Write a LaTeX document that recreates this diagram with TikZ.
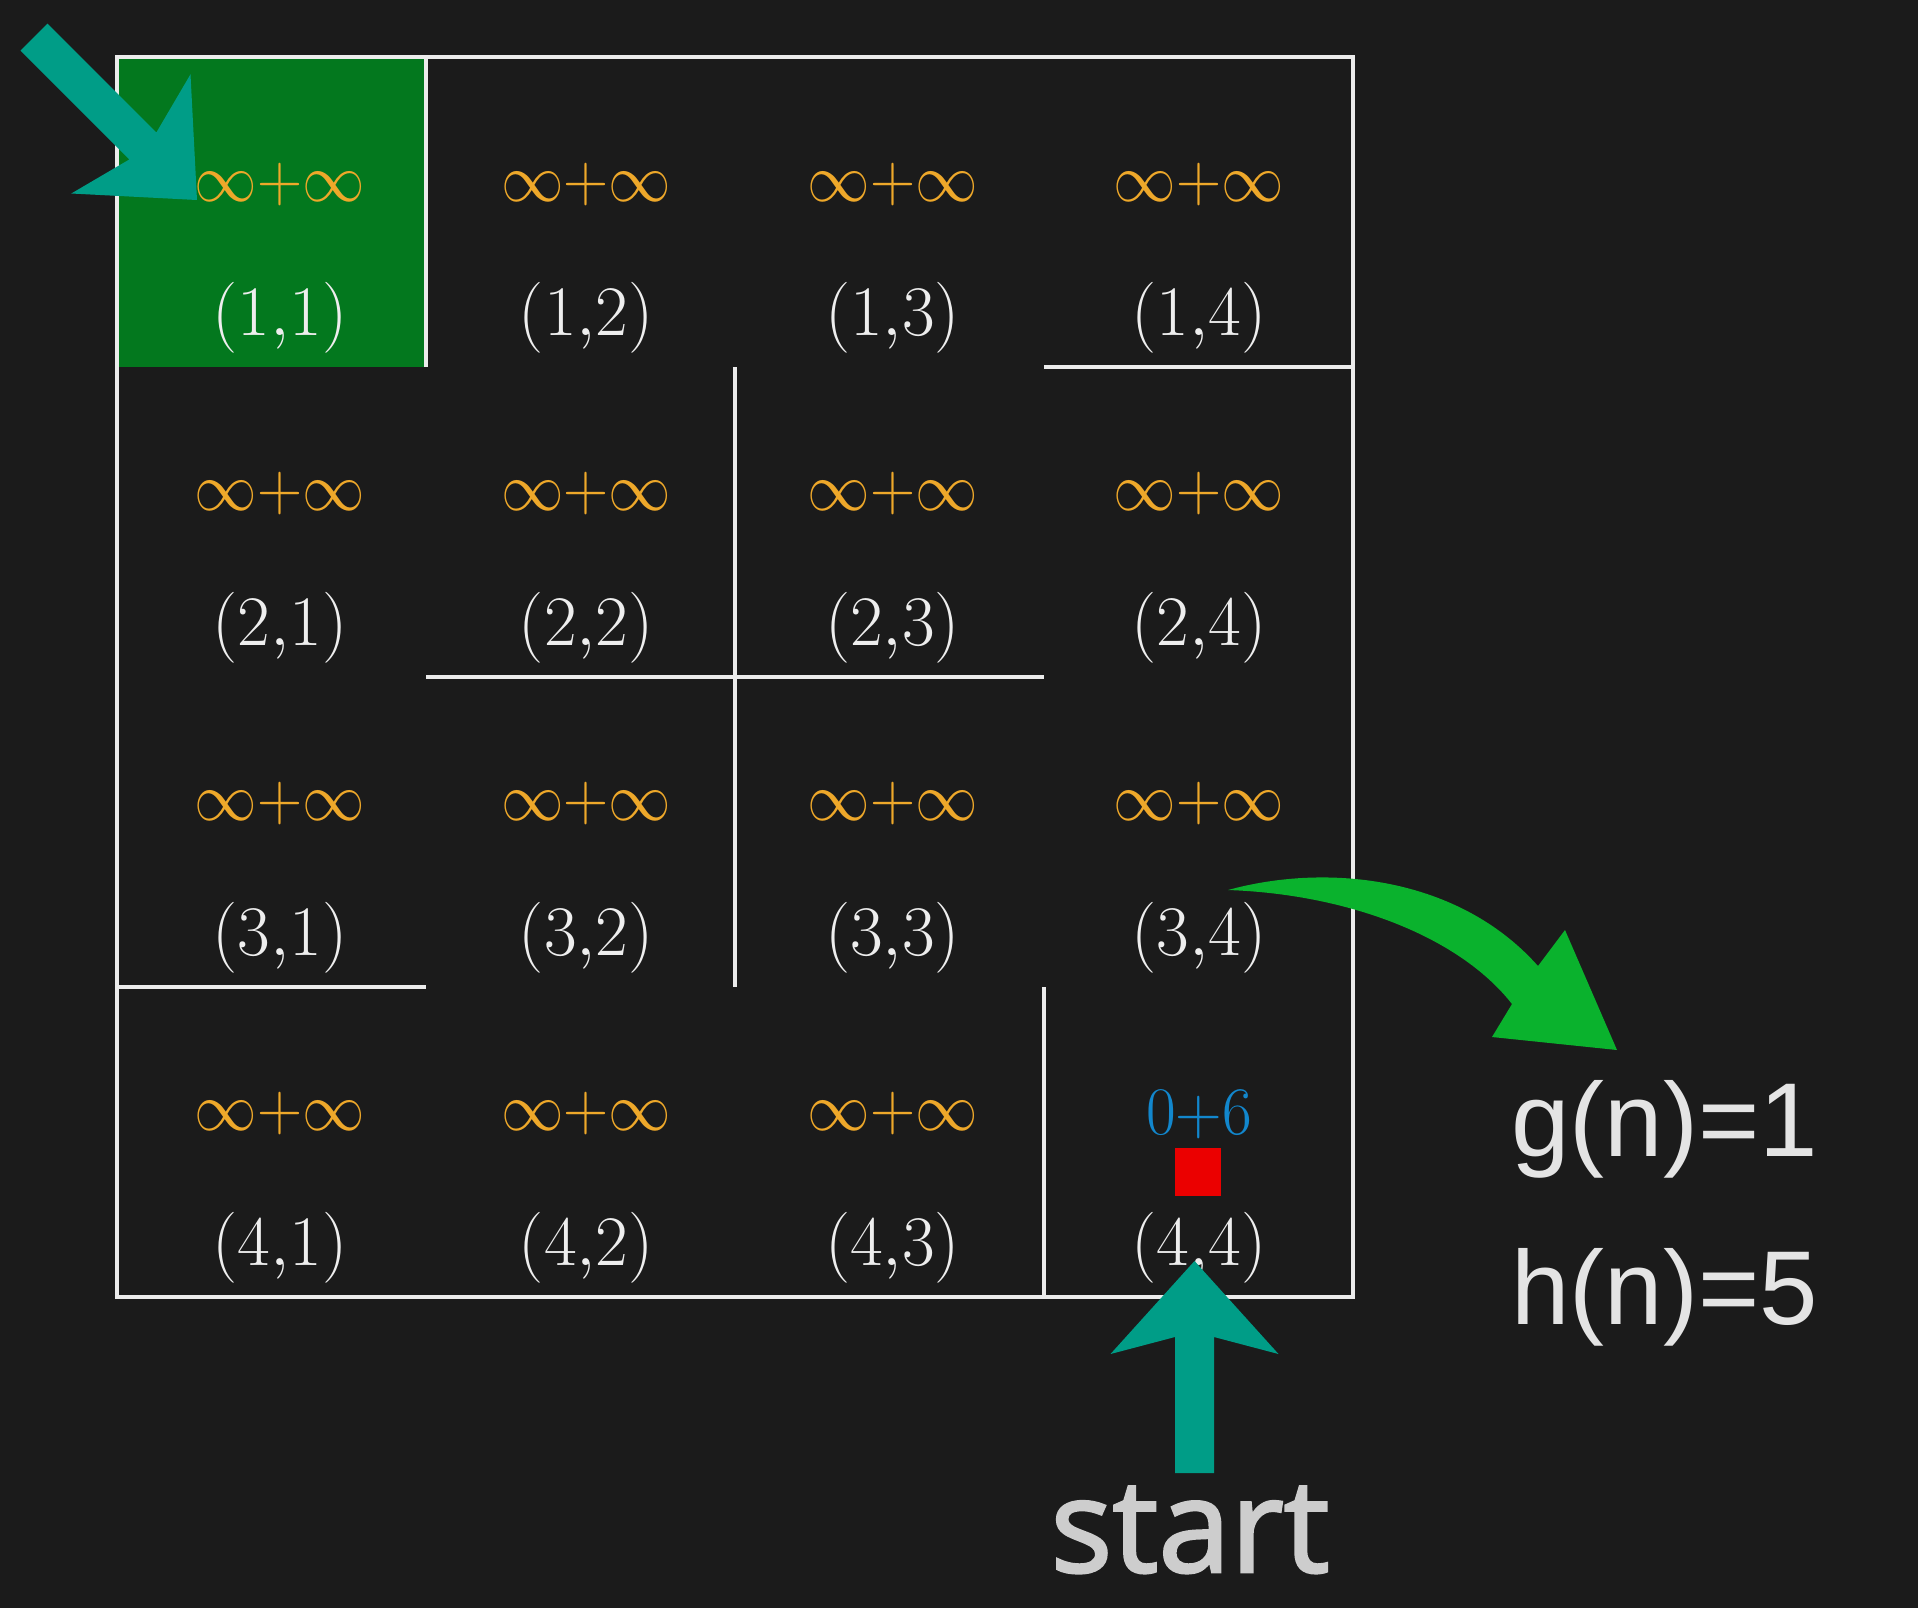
\RequirePackage{fix-cm}
\documentclass[tikz,border=0pt]{standalone}
\usepackage{fontspec}
\newfontfamily\sansf{Liberation Sans}
\newfontfamily\startf{Open Sans}[FakeBold=2]
\definecolor{bg}{RGB}{27,27,27}
\definecolor{gridline}{RGB}{236,236,236}
\definecolor{cellgreen}{RGB}{3,120,30}
\definecolor{infcol}{RGB}{238,168,42}
\definecolor{coordcol}{RGB}{238,238,238}
\definecolor{bluecol}{RGB}{18,135,205}
\definecolor{redsq}{RGB}{235,0,0}
\definecolor{tealarrow}{RGB}{0,157,135}
\definecolor{greenarrow}{RGB}{10,178,45}
\definecolor{labelgray}{RGB}{228,228,228}
\definecolor{startgray}{RGB}{205,205,205}
\begin{document}
\begin{tikzpicture}[x=0.5pt,y=-0.5pt,
  wall/.style={draw=gridline, line width=2.3pt},
  inftxt/.style={text=infcol, inner sep=0pt, font=\fontsize{34}{34}\selectfont, xscale=0.92},
  coordtxt/.style={text=coordcol, inner sep=0pt, font=\fontsize{35.5}{35.5}\selectfont},
  valtxt/.style={text=bluecol, inner sep=0pt, font=\fontsize{34}{34}\selectfont, xscale=0.95},
  formula/.style={text=labelgray, inner sep=0pt, anchor=base west, font=\sansf\fontsize{52.5}{52.5}\selectfont},
  starttxt/.style={text=startgray, inner sep=0pt, anchor=base, font=\startf\fontsize{65}{65}\selectfont}]
\useasboundingbox[fill=bg] (0,0) rectangle (1918,1608);
% goal cell
\fill[cellgreen] (117,57) rectangle (426,367);
% outer border and walls
\draw[wall] (117,57) rectangle (1353,1297);
\draw[wall] (426,57) -- (426,367);
\draw[wall] (1044,367) -- (1353,367);
\draw[wall] (735,367) -- (735,987);
\draw[wall] (426,677) -- (1044,677);
\draw[wall] (117,987) -- (426,987);
\draw[wall] (1044,987) -- (1044,1297);
% cell texts
\foreach \r in {1,...,4}{
  \foreach \c in {1,...,4}{
    \pgfmathsetmacro{\tx}{280+306.3*(\c-1)}
    \pgfmathsetmacro{\vy}{184+309.8*(\r-1)}
    \pgfmathsetmacro{\cy}{318+309.8*(\r-1)}
    \ifnum\r\c=44 \else \node[inftxt] (v\r\c) at (\tx,\vy) {$\infty{+}\infty$}; \fi
    \node[coordtxt] (c\r\c) at (\tx,\cy) {$(\r{,}\c)$};
  }
}
\node[valtxt] (v44) at (1199,1115) {$0{+}6$};
\node[fill=redsq, minimum width=23pt, minimum height=24pt, inner sep=0pt] (agent) at (1198,1172) {};
% diagonal teal arrow to goal
\fill[tealarrow] (47.5,23.5) -- (156.4,132.4) -- (190.5,74.3) -- (197,200)
   -- (71.3,193.5) -- (129.4,159.4) -- (20.5,50.5) -- cycle;
% vertical teal arrow to start
\fill[tealarrow] (1175,1473) -- (1175,1337) -- (1110.5,1354) -- (1194.5,1261)
   -- (1278.5,1354) -- (1214,1337) -- (1214,1473) -- cycle;
% curved green arrow
\fill[greenarrow] (1228,890) .. controls (1330,862) and (1460,878) .. (1538,966)
   -- (1565,930) -- (1617,1050) -- (1492,1037) -- (1512,1004)
   .. controls (1458,935) and (1345,894) .. (1228,890) -- cycle;
% labels
\node[formula] (g) at (1511,1156) {g(n)=1};
\node[formula] (h) at (1511,1324) {h(n)=5};
\node[starttxt] (start) at (1190,1572) {start};
\end{tikzpicture}
\end{document}
